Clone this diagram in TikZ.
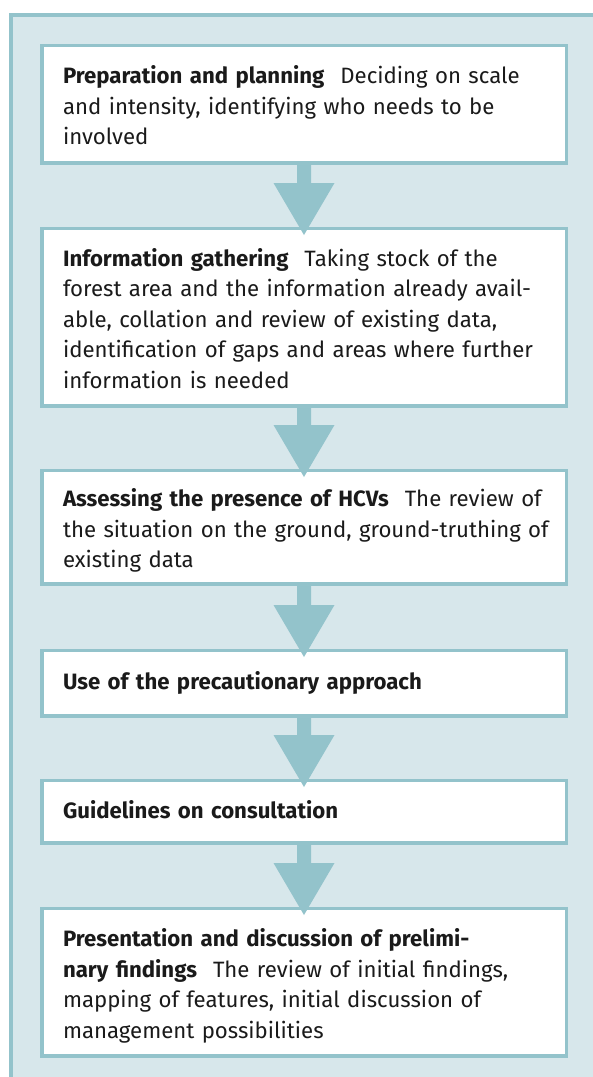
\documentclass[tikz,border=0pt]{standalone}
\usepackage{fontspec}
\setmainfont{Fira Sans}
\usetikzlibrary{calc}

\definecolor{framefill}{RGB}{215,231,235}
\definecolor{frameline}{RGB}{147,195,203}
\definecolor{inktext}{RGB}{26,26,26}

% struts that set the first baseline below the top of the text block
\newcommand\topstrut{\rule{0pt}{25pt}}
\newcommand\botstrut{\rule[-5pt]{0pt}{5pt}}
\newcommand\onestrut{\rule[-8.5pt]{0pt}{30pt}}
% wide space between a bold heading and the text that follows it
\newcommand\headgap{\hspace{0.72em}}

\tikzset{
  stepbox/.style={draw=frameline, line width=3.5pt, fill=white,
    minimum width=524.5pt, text width=482pt, inner xsep=21.25pt, inner ysep=0pt,
    align=left, font=\fontsize{22.2}{30.5}\selectfont, text=inktext, anchor=north},
  flowarrow/.style={fill=frameline}
}

% thick down arrow from the bottom of one box into the top of the next
\newcommand\stagearrow[2]{%
  \fill[flowarrow] ($(#1.south)+(-7pt,0)$) -- ($(#2.north)+(-7pt,43.75pt)$)
    -- ($(#2.north)+(-30.5pt,43.75pt)$) -- ($(#2.north)+(0,-8.25pt)$)
    -- ($(#2.north)+(30.5pt,43.75pt)$) -- ($(#2.north)+(7pt,43.75pt)$)
    -- ($(#1.south)+(7pt,0)$) -- cycle;}

\begin{document}
\begin{tikzpicture}
\useasboundingbox (0,0) rectangle (593pt,-1077pt);

% outer panel, open to the right and bottom
\fill[framefill] (11pt,-15pt) rectangle (600pt,-1085pt);
\draw[frameline, line width=4pt] (11pt,-1085pt) -- (11pt,-15pt) -- (600pt,-15pt);

\node[stepbox, minimum height=117.5pt] (prep) at (304pt,-43.75pt)
  {\mbox{\topstrut\textbf{Preparation and planning}\headgap Deciding on scale}\\
   \mbox{and intensity, identifying who needs to be}\\
   \mbox{involved\botstrut}};

\node[stepbox, minimum height=177.5pt] (info) at (304pt,-226.75pt)
  {\mbox{\topstrut\textbf{Information gathering}\headgap Taking stock of the}\\
   \mbox{forest area and the information already avail-}\\
   \mbox{able, collation and review of existing data,}\\
   \mbox{identification of gaps and areas where further}\\
   \mbox{information is needed\botstrut}};

\node[stepbox, minimum height=113.5pt] (assess) at (304pt,-468.75pt)
  {\mbox{\topstrut\textbf{Assessing the presence of HCVs}\headgap The review of}\\
   \mbox{the situation on the ground, ground-truthing of}\\
   \mbox{existing data\botstrut}};

\node[stepbox, minimum height=65.5pt] (precaution) at (304pt,-648.75pt)
  {\mbox{\onestrut\textbf{Use of the precautionary approach}}};

\node[stepbox, minimum height=62.5pt] (consult) at (304pt,-778.75pt)
  {\mbox{\onestrut\textbf{Guidelines on consultation}}};

\node[stepbox, minimum height=147.5pt] (present) at (304pt,-906.75pt)
  {\mbox{\topstrut\textbf{Presentation and discussion of prelimi-}}\\
   \mbox{\textbf{nary findings}\headgap The review of initial findings,}\\
   \mbox{mapping of features, initial discussion of}\\
   \mbox{management possibilities\botstrut}};

\stagearrow{prep}{info}
\stagearrow{info}{assess}
\stagearrow{assess}{precaution}
\stagearrow{precaution}{consult}
\stagearrow{consult}{present}
\end{tikzpicture}
\end{document}
